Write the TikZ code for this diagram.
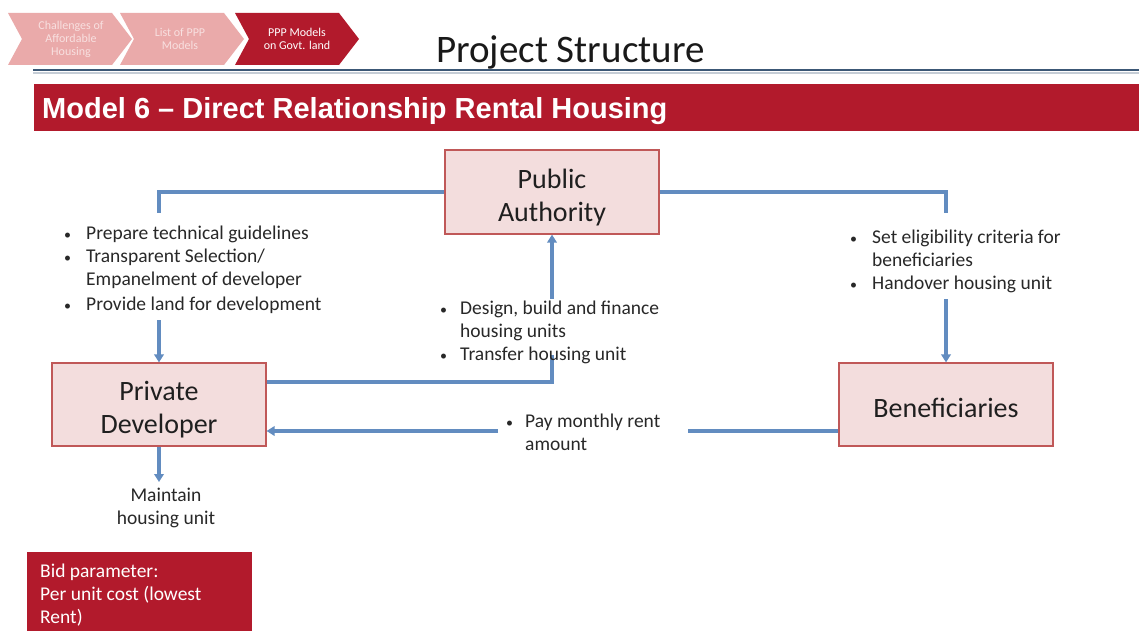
\documentclass[tikz,border=0pt]{standalone}
\usepackage{fontspec}
\setmainfont{Carlito}
\newfontfamily\bannerfont{Liberation Sans}
\usetikzlibrary{arrows.meta}
\definecolor{crimson}{RGB}{178,26,44}
\definecolor{fadepink}{RGB}{234,170,170}
\definecolor{fadetext}{RGB}{248,224,224}
\definecolor{boxfill}{RGB}{243,221,221}
\definecolor{boxdraw}{RGB}{192,88,88}
\definecolor{connc}{RGB}{98,140,192}
\definecolor{txt}{RGB}{40,40,40}
\definecolor{rulecol}{RGB}{60,88,118}
\newcommand\entitytext[1]{\begin{tabular}{@{}c@{}}\rule{0pt}{35pt}#1\end{tabular}}
\newcommand\bul{{\fontsize{14}{14}\selectfont\textbullet}}
\begin{document}
\begin{tikzpicture}[x=1pt,y=-1pt,
  entity/.style={draw=boxdraw, line width=1.2pt, fill=boxfill, minimum width=214pt,
    minimum height=84pt, inner sep=0pt,
    font=\fontsize{28}{33}\selectfont, text=black!88},
  connline/.style={draw=connc, line width=3.2pt},
  arr/.style={connline, -{Triangle[length=8pt,width=9.5pt]}},
  lbl/.style={inner sep=0pt, anchor=base west, font=\fontsize{19.5}{23}\selectfont, text=txt},
  chevtext/.style={inner sep=0pt, align=center, font=\fontsize{12}{13}\selectfont}
]
\useasboundingbox[fill=white] (0,0) rectangle (1139,631);

% breadcrumb chevrons
\fill[fadepink] (8,13) -- (112,13) -- (132,39) -- (112,65) -- (8,65) -- (22,39) -- cycle;
\fill[fadepink] (120,13) -- (224,13) -- (244,39) -- (224,65) -- (120,65) -- (134,39) -- cycle;
\fill[crimson] (235,13) -- (339,13) -- (359,39) -- (339,65) -- (235,65) -- (249,39) -- cycle;
\node[chevtext, text=fadetext] (ch1) at (71,39) {Challenges of\\Affordable\\Housing};
\node[chevtext, text=fadetext] (ch2) at (180,39) {List of PPP\\Models};
\node[chevtext, text=white] (ch3) at (297,39) {PPP Models\\on Govt. land};

% title and rule
\node[inner sep=0pt, anchor=base west, font=\fontsize{39}{44}\selectfont, text=black!90] (title) at (436,63) {Project Structure};
\draw[rulecol, line width=2.5pt] (33,70) -- (1139,70);
\draw[rulecol!30, line width=1.5pt] (33,72.8) -- (1139,72.8);

% banner
\fill[crimson] (34,84) rectangle (1139,131);
\node[inner sep=0pt, anchor=base west, text=white, font=\bannerfont\bfseries\fontsize{29}{33}\selectfont] (banner) at (42,119) {Model 6 – Direct Relationship Rental Housing};

% entities
\node[entity] (pa) at (552,192) {\entitytext{Public\\Authority}};
\node[entity, minimum height=83pt] (pd) at (159,404.5) {\entitytext{Private\\Developer}};
\node[entity, minimum height=83pt] (ben) at (946,404.5) {\entitytext{Beneficiaries}};

% connector points
\coordinate (c1) at (159,213);
\coordinate (c2) at (159,320);
\coordinate (c3) at (946,213);
\coordinate (c4) at (946,299);
\coordinate (c5) at (552,355);
\coordinate (c6) at (552,299);
\coordinate (c7) at (688,431);
\coordinate (c8) at (498,431);
\coordinate (c9) at (159,482);

\draw[connline] (pa.west) -| (c1);
\draw[arr] (c2) -- (pd.north);
\draw[connline] (pa.east) -| (c3);
\draw[arr] (c4) -- (ben.north);
\draw[connline] ([yshift=22.5pt]pd.east) -| (c5);
\draw[arr] (c6) -- (pa.south);
\draw[connline] ([yshift=-26.5pt]ben.west) -- (c7);
\draw[arr] (c8) -- ([yshift=-26.5pt]pd.east);
\draw[arr] (pd.south) -- (c9);

% labels
\node[lbl] (tleft) at (64,239) {\begin{tabular}[t]{@{}p{22pt}@{}l@{}}
\bul & Prepare technical guidelines\\
\bul & Transparent Selection/\\
 & Empanelment of developer\\[2pt]
\bul & Provide land for development
\end{tabular}};
\node[lbl] (tmid) at (440,314) {\begin{tabular}[t]{@{}p{20pt}@{}l@{}}
\bul & Design, build and finance\\
 & housing units\\
\bul & Transfer housing unit
\end{tabular}};
\node[lbl] (tright) at (850,243) {\begin{tabular}[t]{@{}p{22pt}@{}l@{}}
\bul & Set eligibility criteria for\\
 & beneficiaries\\
\bul & Handover housing unit
\end{tabular}};
\node[lbl] (tpay) at (506,427) {\begin{tabular}[t]{@{}p{19pt}@{}l@{}}
\bul & Pay monthly rent\\
 & amount
\end{tabular}};
\node[lbl, anchor=base] (tmaint) at (166,501) {\begin{tabular}[t]{@{}c@{}}
Maintain\\
housing unit
\end{tabular}};

% bid parameter box
\node[fill=crimson, anchor=north west, minimum width=225pt, minimum height=79pt, inner sep=0pt] (bidbox) at (27,552) {};
\node[lbl, text=white] (bid) at (40,577) {\begin{tabular}[t]{@{}l@{}}
Bid parameter:\\
Per unit cost (lowest\\
Rent)
\end{tabular}};
\end{tikzpicture}
\end{document}
